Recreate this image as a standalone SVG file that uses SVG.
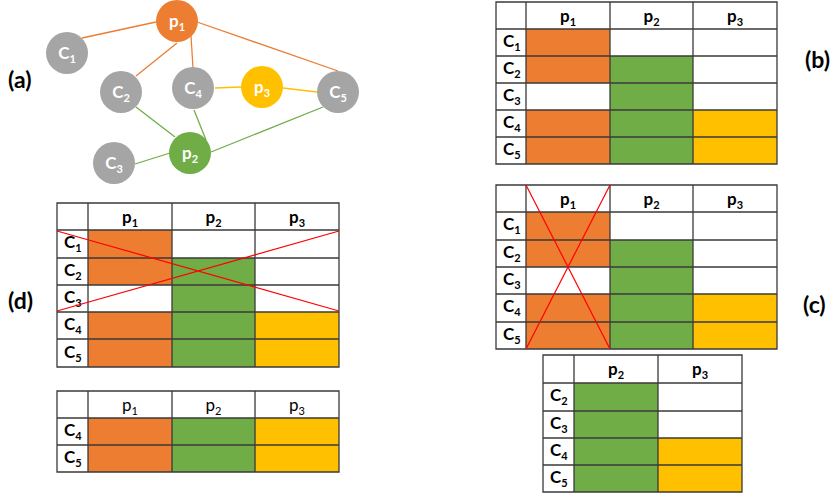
<svg xmlns="http://www.w3.org/2000/svg" width="833" height="498" viewBox="0 0 833 498">
<style>
.bg{fill:#fff}
.o{fill:#ED7D31}.g{fill:#70AD47}.y{fill:#FFC000}.gr{fill:#A5A5A5}
.grid{fill:none;stroke:#3a3a3a;stroke-width:1.3}
.x{stroke:#FF0000;stroke-width:1.2;fill:none}
.eo{stroke:#ED7D31;stroke-width:1.3}.ey{stroke:#FFC000;stroke-width:1.3}.eg{stroke:#70AD47;stroke-width:1.3}
text{font-family:Lato,"Open Sans",sans-serif;font-weight:bold;font-size:17px;fill:#000}
.n{fill:#fff;text-anchor:middle}
.h{text-anchor:middle}
.hr{text-anchor:middle;font-weight:normal}
.lab{font-size:23px}
.s{font-size:11px}
</style>
<rect class="bg" x="0" y="0" width="833" height="498"/>

<g id="connectors">
<line class="eo" x1="82" y1="38" x2="156" y2="22"/>
<line class="eo" x1="177" y1="43" x2="136" y2="76"/>
<line class="eo" x1="191" y1="36" x2="193" y2="68"/>
<line class="eo" x1="197" y1="22" x2="338" y2="71"/>
<line class="ey" x1="215" y1="88" x2="241" y2="87"/>
<line class="ey" x1="283" y1="88" x2="317" y2="92"/>
<line class="eg" x1="136" y1="107" x2="175" y2="137"/>
<line class="eg" x1="194" y1="110" x2="206" y2="140"/>
<line class="eg" x1="211" y1="152" x2="323" y2="107"/>
<line class="eg" x1="135" y1="164" x2="170" y2="153"/>
</g>

<g id="p1"><circle class="o" cx="177" cy="21" r="21"/><text class="n" x="177" y="27">p<tspan class="s" dy="4">1</tspan></text></g>
<g id="C1"><circle class="gr" cx="67" cy="53" r="21"/><text class="n" x="67" y="59">C<tspan class="s" dy="4">1</tspan></text></g>
<g id="C2"><circle class="gr" cx="121" cy="92" r="21"/><text class="n" x="121" y="98">C<tspan class="s" dy="4">2</tspan></text></g>
<g id="C4"><circle class="gr" cx="193" cy="88" r="21"/><text class="n" x="193" y="94">C<tspan class="s" dy="4">4</tspan></text></g>
<g id="p3"><circle class="y" cx="262" cy="87" r="21"/><text class="n" x="262" y="93">p<tspan class="s" dy="4">3</tspan></text></g>
<g id="C5"><circle class="gr" cx="338" cy="92" r="21"/><text class="n" x="338" y="98">C<tspan class="s" dy="4">5</tspan></text></g>
<g id="p2"><circle class="g" cx="190" cy="153" r="21"/><text class="n" x="190" y="159">p<tspan class="s" dy="4">2</tspan></text></g>
<g id="C3"><circle class="gr" cx="114" cy="163" r="21"/><text class="n" x="114" y="169">C<tspan class="s" dy="4">3</tspan></text></g>

<g id="labels">
<text class="lab" x="8" y="88">(a)</text>
<text class="lab" x="805" y="68">(b)</text>
<text class="lab" x="803" y="313">(c)</text>
<text class="lab" x="8" y="309">(d)</text>
</g>

<g id="table-b">
<rect class="o" x="526" y="29" width="84" height="27"/>
<rect class="o" x="526" y="56" width="84" height="27"/><rect class="g" x="610" y="56" width="83" height="27"/>
<rect class="g" x="610" y="83" width="83" height="27"/>
<rect class="o" x="526" y="110" width="84" height="27"/><rect class="g" x="610" y="110" width="83" height="27"/><rect class="y" x="693" y="110" width="84" height="27"/>
<rect class="o" x="526" y="137" width="84" height="27"/><rect class="g" x="610" y="137" width="83" height="27"/><rect class="y" x="693" y="137" width="84" height="27"/>
<path class="grid" d="M496 2H777V164H496Z M526 2V164 M610 2V164 M693 2V164 M496 29H777 M496 56H777 M496 83H777 M496 110H777 M496 137H777"/>
<text class="h" x="568" y="22">p<tspan class="s" dy="4">1</tspan></text>
<text class="h" x="651.5" y="22">p<tspan class="s" dy="4">2</tspan></text>
<text class="h" x="735" y="22">p<tspan class="s" dy="4">3</tspan></text>
<text x="503" y="47">C<tspan class="s" dy="4">1</tspan></text>
<text x="503" y="74">C<tspan class="s" dy="4">2</tspan></text>
<text x="503" y="101">C<tspan class="s" dy="4">3</tspan></text>
<text x="503" y="128">C<tspan class="s" dy="4">4</tspan></text>
<text x="503" y="155">C<tspan class="s" dy="4">5</tspan></text>
</g>

<g id="table-c">
<rect class="o" x="526" y="212" width="84" height="28"/>
<rect class="o" x="526" y="240" width="84" height="27"/><rect class="g" x="610" y="240" width="83" height="27"/>
<rect class="g" x="610" y="267" width="83" height="27"/>
<rect class="o" x="526" y="294" width="84" height="28"/><rect class="g" x="610" y="294" width="83" height="28"/><rect class="y" x="693" y="294" width="84" height="28"/>
<rect class="o" x="526" y="322" width="84" height="27"/><rect class="g" x="610" y="322" width="83" height="27"/><rect class="y" x="693" y="322" width="84" height="27"/>
<path class="grid" d="M496 185H777V349H496Z M526 185V349 M610 185V349 M693 185V349 M496 212H777 M496 240H777 M496 267H777 M496 294H777 M496 322H777"/>
<text class="h" x="568" y="205">p<tspan class="s" dy="4">1</tspan></text>
<text class="h" x="651.5" y="205">p<tspan class="s" dy="4">2</tspan></text>
<text class="h" x="735" y="205">p<tspan class="s" dy="4">3</tspan></text>
<text x="503" y="230">C<tspan class="s" dy="4">1</tspan></text>
<text x="503" y="258">C<tspan class="s" dy="4">2</tspan></text>
<text x="503" y="285">C<tspan class="s" dy="4">3</tspan></text>
<text x="503" y="312">C<tspan class="s" dy="4">4</tspan></text>
<text x="503" y="340">C<tspan class="s" dy="4">5</tspan></text>
<path class="x" d="M526 185L610 349 M610 185L526 349"/>
</g>

<g id="table-c2">
<rect class="g" x="574" y="383" width="84" height="28"/>
<rect class="g" x="574" y="411" width="84" height="27"/>
<rect class="g" x="574" y="438" width="84" height="27"/><rect class="y" x="658" y="438" width="84" height="27"/>
<rect class="g" x="574" y="465" width="84" height="27"/><rect class="y" x="658" y="465" width="84" height="27"/>
<path class="grid" d="M543 355H742V492H543Z M574 355V492 M658 355V492 M543 383H742 M543 411H742 M543 438H742 M543 465H742"/>
<text class="h" x="616" y="375">p<tspan class="s" dy="4">2</tspan></text>
<text class="h" x="700" y="375">p<tspan class="s" dy="4">3</tspan></text>
<text x="550" y="401">C<tspan class="s" dy="4">2</tspan></text>
<text x="550" y="429">C<tspan class="s" dy="4">3</tspan></text>
<text x="550" y="456">C<tspan class="s" dy="4">4</tspan></text>
<text x="550" y="483">C<tspan class="s" dy="4">5</tspan></text>
</g>

<g id="table-d">
<rect class="o" x="88" y="230" width="84" height="28"/>
<rect class="o" x="88" y="258" width="84" height="27"/><rect class="g" x="172" y="258" width="83" height="27"/>
<rect class="g" x="172" y="285" width="83" height="27"/>
<rect class="o" x="88" y="312" width="84" height="27"/><rect class="g" x="172" y="312" width="83" height="27"/><rect class="y" x="255" y="312" width="84" height="27"/>
<rect class="o" x="88" y="339" width="84" height="28"/><rect class="g" x="172" y="339" width="83" height="28"/><rect class="y" x="255" y="339" width="84" height="28"/>
<path class="grid" d="M57 203H339V367H57Z M88 203V367 M172 203V367 M255 203V367 M57 230H339 M57 258H339 M57 285H339 M57 312H339 M57 339H339"/>
<text class="h" x="130" y="223">p<tspan class="s" dy="4">1</tspan></text>
<text class="h" x="213.5" y="223">p<tspan class="s" dy="4">2</tspan></text>
<text class="h" x="297" y="223">p<tspan class="s" dy="4">3</tspan></text>
<text x="64" y="248">C<tspan class="s" dy="4">1</tspan></text>
<text x="64" y="276">C<tspan class="s" dy="4">2</tspan></text>
<text x="64" y="303">C<tspan class="s" dy="4">3</tspan></text>
<text x="64" y="330">C<tspan class="s" dy="4">4</tspan></text>
<text x="64" y="358">C<tspan class="s" dy="4">5</tspan></text>
<path class="x" d="M57 231L339 311 M57 311L339 231"/>
</g>

<g id="table-d2">
<rect class="o" x="88" y="418" width="84" height="27"/><rect class="g" x="172" y="418" width="83" height="27"/><rect class="y" x="255" y="418" width="84" height="27"/>
<rect class="o" x="88" y="445" width="84" height="27"/><rect class="g" x="172" y="445" width="83" height="27"/><rect class="y" x="255" y="445" width="84" height="27"/>
<path class="grid" d="M57 391H339V472H57Z M88 391V472 M172 391V472 M255 391V472 M57 418H339 M57 445H339"/>
<text class="hr" x="130" y="411">p<tspan class="s" dy="4">1</tspan></text>
<text class="hr" x="213.5" y="411">p<tspan class="s" dy="4">2</tspan></text>
<text class="hr" x="297" y="411">p<tspan class="s" dy="4">3</tspan></text>
<text x="64" y="436">C<tspan class="s" dy="4">4</tspan></text>
<text x="64" y="463">C<tspan class="s" dy="4">5</tspan></text>
</g>
</svg>
